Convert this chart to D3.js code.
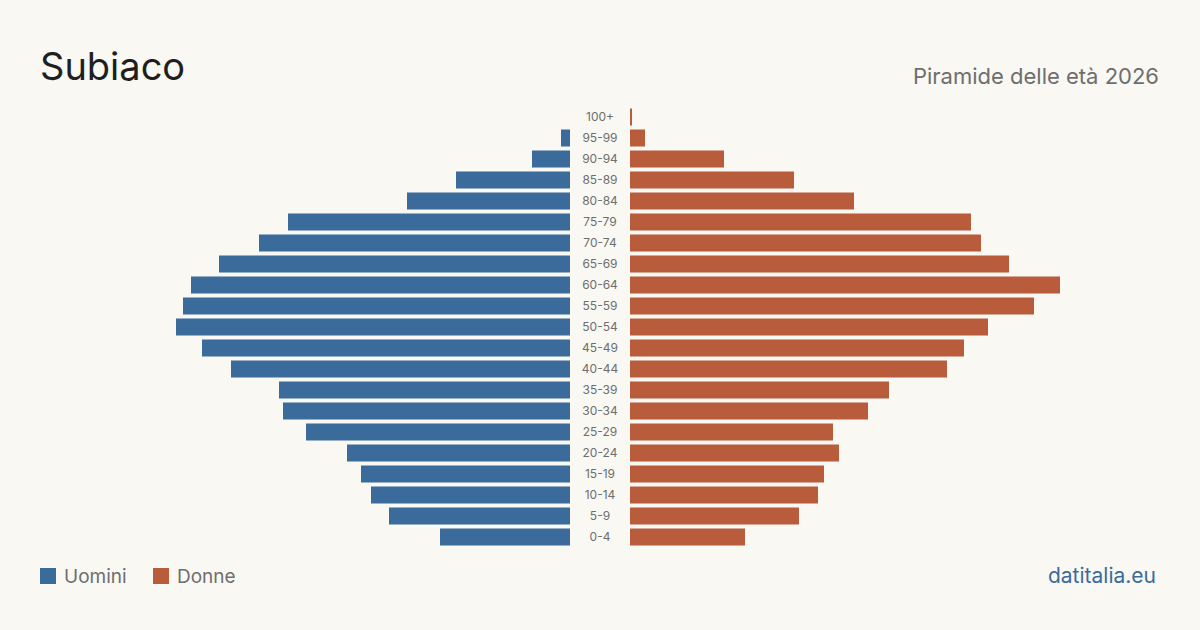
<!DOCTYPE html>
<html><head><meta charset="utf-8">
<script src="https://cdn.jsdelivr.net/npm/d3@7"></script>
<style>
html,body{margin:0;padding:0;background:#f9f8f3;}
svg{display:block;font-family:Inter,"Noto Sans",sans-serif;}
</style></head>
<body>
<svg id="c" width="1200" height="630"></svg>
<script>
const ageGroups = ["0-4","5-9","10-14","15-19","20-24","25-29","30-34","35-39","40-44","45-49","50-54","55-59","60-64","65-69","70-74","75-79","80-84","85-89","90-94","95-99","100+"];
const men   = [130,181,199,209,223,264,287,291,339,368,394,387,379,351,311,282,163,114,38,9,0];
const women = [115,169,188,194,209,203,238,259,317,334,358,404,430,379,351,341,224,164,94,15,2];
const legendLabels = ["Uomini","Donne"];
const colors = ["#3b6b9b","#b95c3c"];

const svg = d3.select("#c");
svg.append("rect").attr("width",1200).attr("height",630).attr("fill","#f9f8f3");

svg.append("text").attr("x",40).attr("y",80).attr("font-size",38).attr("fill","#1f1f1f").text("Subiaco");
svg.append("text").attr("x",1159).attr("y",84).attr("text-anchor","end").attr("font-size",22).attr("fill","#6e6e6e").text("Piramide delle età 2026");

const y = d3.scaleBand().domain(ageGroups.slice().reverse()).range([106.5,547.5]).paddingInner(0.19).paddingOuter(0.095);
const xL = d3.scaleLinear().domain([0,430]).range([570,140]);
const xR = d3.scaleLinear().domain([0,430]).range([630,1060]);

svg.append("g").selectAll("rect").data(ageGroups).join("rect")
  .attr("x",(d,i)=>xL(men[i])).attr("width",(d,i)=>570-xL(men[i]))
  .attr("y",d=>y(d)).attr("height",y.bandwidth()).attr("fill",colors[0]);
svg.append("g").selectAll("rect").data(ageGroups).join("rect")
  .attr("x",630).attr("width",(d,i)=>xR(women[i])-630)
  .attr("y",d=>y(d)).attr("height",y.bandwidth()).attr("fill",colors[1]);

svg.append("g").selectAll("text").data(ageGroups).join("text")
  .attr("x",600).attr("y",d=>y(d)+y.bandwidth()/2).attr("dy","0.35em")
  .attr("text-anchor","middle").attr("font-size",12).attr("fill","#6e6e6e").text(d=>d);

const lg = svg.append("g");
const lx = [40,153];
legendLabels.forEach((l,i)=>{
  lg.append("rect").attr("x",lx[i]).attr("y",568).attr("width",16).attr("height",16).attr("fill",colors[i]);
  lg.append("text").attr("x",lx[i]+24).attr("y",583).attr("font-size",19).attr("fill","#6e6e6e").text(l);
});
svg.append("text").attr("x",1156).attr("y",583).attr("text-anchor","end").attr("font-size",21).attr("fill","#3b6b9b").text("datitalia.eu");
</script>
</body></html>
